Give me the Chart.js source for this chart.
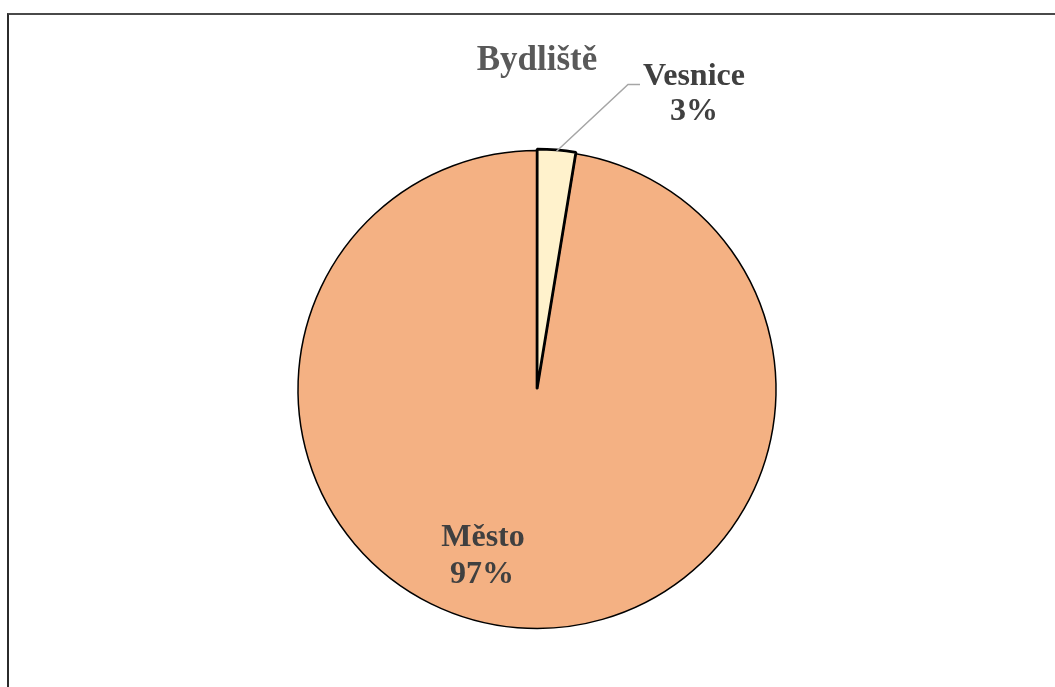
<!DOCTYPE html>
<html>
<head>
<meta charset="utf-8">
<script src="https://cdn.jsdelivr.net/npm/chart.js@4"></script>
<style>
  html, body { margin: 0; padding: 0; background: #fff; overflow: hidden; }
  #wrap { position: relative; width: 1055px; height: 687px; }
  #frame { position: absolute; left: 7px; top: 13px; width: 1100px; height: 700px;
           border-left: 2px solid #2b2b2b; border-top: 2px solid #4a4a4a; }
  canvas { position: absolute; left: 0; top: 0; }
</style>
</head>
<body>
<div id="wrap">
  <div id="frame"></div>
  <canvas id="c" width="1055" height="687"></canvas>
</div>
<script>
const chartTitle = 'Bydliště';
const categories = ['Město', 'Vesnice'];
const shares = [97.4, 2.6];
const percentLabels = ['97%', '3%'];
const sliceColors = ['#F4B183', '#FFF2CC'];

const FONT = '"Liberation Serif", "Times New Roman", serif';

const labelPlugin = {
  id: 'labels',
  afterDraw(chart) {
    const ctx = chart.ctx;
    const arcs = chart.getDatasetMeta(0).data;
    const cx = arcs[0].x, cy = arcs[0].y;
    ctx.save();
    ctx.fillStyle = '#595959';
    ctx.font = 'bold 35px ' + FONT;
    ctx.textAlign = 'center';
    ctx.textBaseline = 'middle';
    ctx.fillText(chartTitle, cx, cy - 329);

    const v = arcs[1];
    const mid = (v.startAngle + v.endAngle) / 2;
    const sx = v.x + Math.cos(mid) * v.outerRadius;
    const sy = v.y + Math.sin(mid) * v.outerRadius;
    ctx.strokeStyle = '#A6A6A6';
    ctx.lineWidth = 1.5;
    ctx.beginPath();
    ctx.moveTo(sx, sy);
    ctx.lineTo(cx + 91, cy - 305);
    ctx.lineTo(cx + 103, cy - 305);
    ctx.stroke();

    ctx.fillStyle = '#404040';
    ctx.font = 'bold 32px ' + FONT;
    ctx.fillText(categories[1], cx + 157, cy - 313);
    ctx.fillText(percentLabels[1], cx + 157, cy - 278);

    ctx.fillText(categories[0], cx - 54, cy + 148);
    ctx.fillText(percentLabels[0], cx - 55, cy + 185);
    ctx.restore();
  }
};

new Chart(document.getElementById('c'), {
  type: 'pie',
  data: {
    labels: categories,
    datasets: [{
      data: shares,
      backgroundColor: sliceColors,
      borderColor: '#000000',
      borderWidth: [1.5, 2.8],
      offset: [0, 3]
    }]
  },
  options: {
    responsive: false,
    animation: false,
    radius: 239,
    rotation: shares[1] / 100 * 360,
    layout: { padding: { left: 19, right: 0, top: 92, bottom: 0 } },
    plugins: {
      legend: { display: false },
      title: { display: false },
      tooltip: { enabled: false }
    }
  },
  plugins: [labelPlugin]
});
</script>
</body>
</html>
